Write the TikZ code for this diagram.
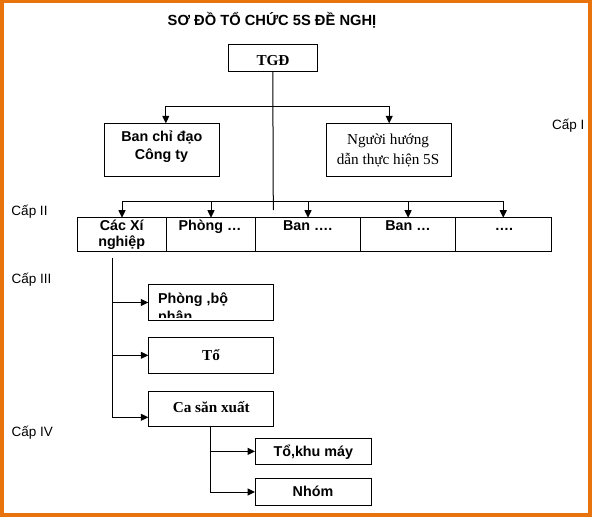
\documentclass[tikz,border=0pt]{standalone}
\usepackage{fontspec}
\setmainfont{Liberation Serif}
\newfontfamily\arial{Liberation Sans}
\usetikzlibrary{arrows.meta}
\definecolor{frameorange}{RGB}{232,114,12}
\begin{document}
\begin{tikzpicture}[x=1pt,y=-1pt,
  box/.style={draw, line width=1pt, inner sep=0pt, outer sep=0pt, rectangle, anchor=north west},
  con/.style={line width=1pt},
  arr/.style={line width=1pt, -{Triangle[length=7.5pt,width=7pt]}},
  sansb/.style={font=\arial\bfseries\fontsize{14.3}{17}\selectfont, inner sep=0pt, anchor=base},
  sansr/.style={font=\arial\fontsize{13.5}{16}\selectfont, inner sep=0pt, anchor=base west},
  serifb/.style={font=\bfseries\fontsize{15.2}{18}\selectfont, inner sep=0pt, anchor=base},
  serifr/.style={font=\fontsize{15.2}{18}\selectfont, inner sep=0pt, anchor=base}]
% frame
\fill[frameorange] (0,0) rectangle (592,517);
\fill[white] (4,3.3) rectangle (588,513);
\useasboundingbox (0,0) rectangle (592,517);
% title
\node[font=\arial\bfseries\fontsize{14.7}{17}\selectfont, inner sep=0pt, anchor=base] (title) at (272,25) {SƠ ĐỒ TỔ CHỨC 5S ĐỀ NGHỊ};
% level labels
\node[sansr] (cap1) at (552,129.3) {Cấp I};
\node[sansr] (cap2) at (11.3,215) {Cấp II};
\node[sansr] (cap3) at (11.5,283) {Cấp III};
\node[sansr] (cap4) at (11.5,436.7) {Cấp IV};
% boxes
\node[box, minimum width=89pt, minimum height=27.4pt] (tgd) at (228.3,44.3) {};
\node[box, minimum width=115pt, minimum height=53.4pt] (bcd) at (104.3,123.3) {};
\node[box, minimum width=125pt, minimum height=53.4pt] (nhd) at (326.7,123.3) {};
\node[box, minimum width=89.4pt, minimum height=33.3pt] (c1) at (77.3,217.7) {};
\node[box, minimum width=88.6pt, minimum height=33.3pt] (c2) at (166.7,217.7) {};
\node[box, minimum width=105.4pt, minimum height=33.3pt] (c3) at (255.3,217.7) {};
\node[box, minimum width=94.8pt, minimum height=33.3pt] (c4) at (360.7,217.7) {};
\node[box, minimum width=95.5pt, minimum height=33.3pt] (c5) at (455.5,217.7) {};
\node[box, minimum width=125pt, minimum height=36.4pt] (pbp) at (148.3,284.3) {};
\node[box, minimum width=125pt, minimum height=36pt] (to) at (148.3,337.3) {};
\node[box, minimum width=125pt, minimum height=34.7pt] (ca) at (148.3,391.3) {};
\node[box, minimum width=116.3pt, minimum height=25.3pt] (tkm) at (255,438.7) {};
\node[box, minimum width=116.3pt, minimum height=26.6pt] (nhom) at (255,478.7) {};
% texts
\node[serifb] (tgdt) at (273,65) {TGĐ};
\node[sansb] (bcdt1) at (161.8,141.7) {Ban chỉ đạo};
\node[sansb] (bcdt2) at (161.5,159.3) {Công ty};
\node[serifr] (nhdt1) at (388,144) {Người hướng};
\node[serifr] (nhdt2) at (388,164) {dẫn thực hiện 5S};
\node[sansb] (c1t1) at (121.7,230) {Các Xí};
\node[sansb] (c1t2) at (121.7,246) {nghiệp};
\node[sansb] (c2t) at (210,230) {Phòng …};
\node[sansb] (c3t) at (307.8,230) {Ban ….};
\node[sansb] (c4t) at (408,230) {Ban …};
\node[sansb] (c5t) at (504,230) {….};
\begin{scope}
  \clip (149,285) rectangle (272.5,317);
  \node[sansb, anchor=base west] (pbpt1) at (158,303) {Phòng ,bộ};
  \node[sansb, anchor=base west] (pbpt2) at (158,321) {phận};
\end{scope}
\node[serifb] (tot) at (211,360.7) {Tổ};
\node[serifb] (cat) at (211.3,412.7) {Ca săn xuất};
\node[sansb] (tkmt) at (313.3,456.7) {Tổ,khu máy};
\node[sansb] (nhomt) at (313,496.7) {Nhóm};
% connectors level I
\coordinate (tgdend) at (273.3,210);
\coordinate (j1) at (273.3,106.7);
\coordinate (j2) at (273.3,201);
\draw[con] (tgd.south) -- (tgdend);
\draw[arr] (j1) -| ([xshift=4pt]bcd.north);
\draw[arr] (j1) -| (nhd.north);
% connectors level II
\draw[arr] (j2) -| (c1.north);
\draw[arr] (j2) -| (c2.north);
\draw[arr] (j2) -| (c3.north);
\draw[arr] (j2) -| (c4.north);
\draw[arr] (j2) -| (c5.north);
% connectors level III
\coordinate (x0) at (112.3,258);
\coordinate (x3) at (112.3,417.3);
\draw[con] (x0) -- (x3);
\draw[arr] (x0 |- pbp.west) -- (pbp.west);
\draw[arr] (x0 |- to.west) -- (to.west);
\draw[arr] (x3) -- (x3 -| ca.west);
% connectors level IV
\draw[arr] (ca.south |- tkm.west) -- (tkm.west);
\draw[arr] (ca.south) |- (nhom.west);
\end{tikzpicture}
\end{document}
